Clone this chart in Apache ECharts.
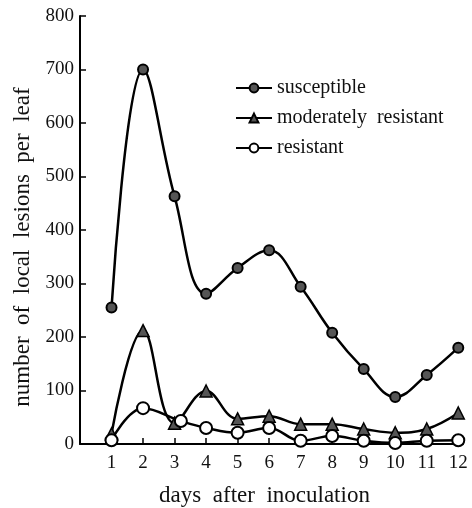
<!DOCTYPE html>
<html>
<head>
<meta charset="utf-8">
<script src="https://cdn.jsdelivr.net/npm/echarts@6/dist/echarts.min.js"></script>
<style>
  html, body { margin: 0; padding: 0; background: #fff; }
  #chart { width: 472px; height: 508px; }
</style>
</head>
<body>
<div id="chart"></div>
<script>
// 数据
const days = [1, 2, 3, 4, 5, 6, 7, 8, 9, 10, 11, 12];
const resistantDays = [1, 2, 3.2, 4, 5, 6, 7, 8, 9, 10, 11, 12];
const susceptible = [255, 700, 463, 281, 329, 362, 294, 208, 140, 88, 129, 180];
const moderate = [19, 212, 39, 99, 47, 52, 37, 37, 28, 21, 28, 58];
const resistant = [7, 67, 43, 30, 21, 30, 6, 15, 6, 2, 6, 7];
const yTicks = [0, 100, 200, 300, 400, 500, 600, 700, 800];

const serif = "'Liberation Serif', 'DejaVu Serif', serif";
const pair = (xs, ys) => xs.map((x, i) => [x, ys[i]]);

const chart = echarts.init(document.getElementById('chart'));

const lineBase = {
  type: 'line',
  smooth: 0.4,
  lineStyle: { color: '#000', width: 2.5 },
  z: 3
};

chart.setOption({
  backgroundColor: '#fff',
  animation: false,
  // v6 默认会收缩 grid，这里关掉
  grid: { left: 80, right: 9, top: 16, bottom: 64, outerBoundsMode: 'none' },
  legend: {
    orient: 'vertical',
    left: 230,
    top: 73,
    itemWidth: 36,
    itemHeight: 11,
    itemGap: 10,
    textStyle: { fontFamily: serif, fontSize: 20, color: '#111' },
    data: ['susceptible', 'moderately  resistant', 'resistant']
  },
  xAxis: {
    type: 'value',
    min: 0,
    max: 12.15,
    interval: 1,
    name: 'days  after  inoculation',
    nameLocation: 'middle',
    nameGap: 40,
    nameTextStyle: { fontFamily: serif, fontSize: 23, color: '#111', padding: [0, 14, 0, 0] },
    splitLine: { show: false },
    axisLine: { lineStyle: { color: '#000', width: 2 } },
    axisTick: { inside: true, length: 6, customValues: days, lineStyle: { color: '#000', width: 1.5 } },
    axisLabel: { customValues: days, margin: 10, fontFamily: serif, fontSize: 19, color: '#111' }
  },
  yAxis: {
    type: 'value',
    min: 0,
    max: 800,
    interval: 100,
    name: 'number  of  local  lesions  per  leaf',
    nameLocation: 'middle',
    nameGap: 45,
    nameTextStyle: { fontFamily: serif, fontSize: 23, color: '#111', padding: [0, 34, 0, 0] },
    splitLine: { show: false },
    axisLine: { show: true, lineStyle: { color: '#000', width: 2 } },
    axisTick: { show: true, inside: true, length: 6, customValues: yTicks, lineStyle: { color: '#000', width: 1.5 } },
    axisLabel: { customValues: yTicks, margin: 6, fontFamily: serif, fontSize: 19, color: '#111' }
  },
  series: [
    Object.assign({}, lineBase, {
      name: 'susceptible',
      data: pair(days, susceptible),
      symbol: 'circle',
      symbolSize: 10,
      itemStyle: { color: '#555', borderColor: '#000', borderWidth: 2 }
    }),
    Object.assign({}, lineBase, {
      name: 'moderately  resistant',
      data: pair(days, moderate),
      symbol: 'triangle',
      symbolSize: 12,
      itemStyle: { color: '#555', borderColor: '#000', borderWidth: 1.5 }
    }),
    Object.assign({}, lineBase, {
      name: 'resistant',
      data: pair(resistantDays, resistant),
      symbol: 'circle',
      symbolSize: 12,
      itemStyle: { color: '#fff', borderColor: '#000', borderWidth: 2 }
    })
  ]
});
</script>
</body>
</html>
